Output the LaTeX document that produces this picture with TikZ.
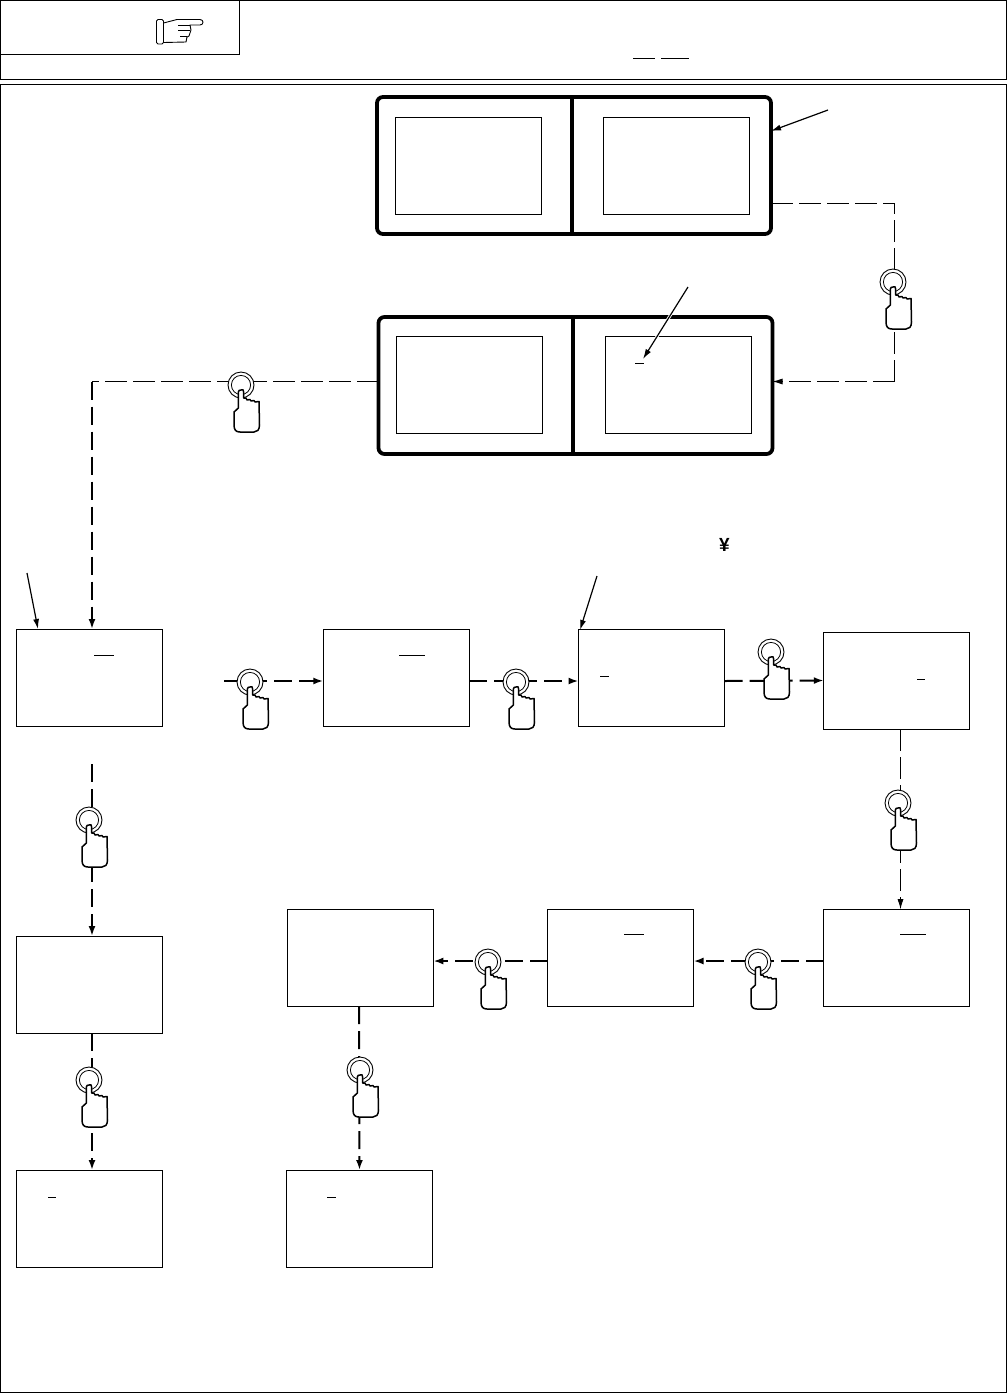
\documentclass[tikz,border=0pt]{standalone}
\usepackage{fontspec}
\setmainfont{Liberation Sans}
\usepackage{tikz}
\usetikzlibrary{positioning,calc}
\usetikzlibrary{arrows.meta}
\tikzset{
  frame/.style={draw=black,line width=1pt},
  panel/.style={draw=black,line width=3.8pt,rounded corners=6pt,inner sep=0pt,outer sep=0pt,
    minimum width=394pt,minimum height=137pt},
  screen/.style={draw=black,line width=0.95pt,inner sep=0pt,outer sep=0pt,
    minimum width=146pt,minimum height=97pt},
  overbar/.style={draw=black,line width=0.85pt},
  callout/.style={draw=black,line width=1.2pt,-{Latex[length=10pt,width=6pt]}},
  link/.style={draw=black,line width=2pt,dash pattern=on 18pt off 7pt,-{Latex[length=10pt,width=7pt]}},
  linkthin/.style={draw=black,line width=0.85pt,dash pattern=on 22pt off 6pt,-{Latex[length=10pt,width=6pt]}},
  wire/.style={draw=black,line width=0.85pt,dash pattern=on 22pt off 6pt},
  pics/press/.style={code={
    \draw[black,line width=0.9pt,fill=white] (0,0) circle (13pt);
    \draw[black,line width=0.8pt] (0,0) circle (9.6pt);
    \draw[black,line width=1.5pt,fill=white,line join=round]
      (0,5) .. controls (2,4) and (2.6,5) .. (2.6,7) -- (2.6,13)
      -- (5,13) -- (6,15) -- (9,14.5) -- (10,16) -- (13,15.5) -- (14,17) -- (18,16.5)
      -- (18.5,40) .. controls (18.5,45) and (16,47) .. (13,47)
      -- (-1,47) .. controls (-5,47) and (-7,45) .. (-7,40)
      -- (-7,27) -- (-2.6,23) -- (-2.6,7) .. controls (-2.6,5.5) and (-1.5,5) .. (0,5) -- cycle;
  }},
}
\begin{document}
\begin{tikzpicture}[x=1pt,y=-1pt]
\useasboundingbox (0,0) rectangle (1007,1393);
% header
\draw[frame] (0.6,0.6) rectangle (1006.4,79.5);
\draw[frame] (0.6,54.5) -- (239.5,54.5) -- (239.5,0.6);
\draw[frame] (0.8,84.5) rectangle (1006.4,1392.4);
\draw[overbar] (633,58.5) -- (655,58.5);
\draw[overbar] (661,58.5) -- (689,58.5);
\draw[black,line width=0.9pt,fill=white,rounded corners=1.5pt] (156.5,19.5) rectangle (163.5,44);
\draw[black,line width=0.9pt,fill=white,line join=round]
  (163.5,23) -- (177,19.5) -- (200,19.5) .. controls (204,19.5) and (204,25) .. (200,25)
  -- (190,25) -- (191,30) -- (189,36) -- (187,37) -- (186,42) -- (163.5,42.5) -- cycle;
\draw[black,line width=0.8pt] (178,25) -- (190,25) (178,30.5) -- (190,30.5) (180,36.5) -- (187,36.5);
% panels
\node[panel] (panelA) at (574,165.5) {};
\node[panel] (panelB) at (575.5,385.5) {};
\draw[draw=black,line width=3.4pt] (572,97) -- (572,234);
\draw[draw=black,line width=3.4pt] (573,317) -- (573,454);
\node[screen] (screenA1) at (468,165.5) {};
\node[screen] (screenA2) at (676,165.5) {};
\node[screen] (screenB1) at (469,385) {};
\node[screen] (screenB2) at (678,385) {};
\draw[overbar] (635,363.5) -- (644,363.5);
% screens of the sequence
\node[screen] (boxA) at (89.5,677.5) {};
\node[screen] (boxB) at (396.3,677.5) {};
\node[screen] (boxC) at (651.5,677.5) {};
\node[screen] (boxD) at (896.8,680.5) {};
\node[screen] (boxE) at (896.8,957.7) {};
\node[screen] (boxF) at (620.5,957.7) {};
\node[screen] (boxG) at (360.3,957.7) {};
\node[screen] (boxH) at (89.5,984.5) {};
\node[screen] (boxI) at (89.5,1218.5) {};
\node[screen] (boxJ) at (359.5,1218.5) {};
\draw[overbar] (94,655.5) -- (114,655.5);
\draw[overbar] (399,655.5) -- (425,655.5);
\draw[overbar] (600,676.5) -- (609,676.5);
\draw[overbar] (917,679.5) -- (925,679.5);
\draw[overbar] (900,934.5) -- (926,934.5);
\draw[overbar] (624,934.5) -- (644,934.5);
\draw[overbar] (48,1197.5) -- (56,1197.5);
\draw[overbar] (327,1197.5) -- (336,1197.5);
\node[inner sep=0pt,font=\fontsize{19pt}{19pt}\selectfont\bfseries] (yen) at (724.5,545) {¥};
% callouts
\coordinate (tipA) at (828,110);
\coordinate (tipB) at (688,287);
\coordinate (tipC) at (27,573);
\coordinate (tipD) at (597,576);
\draw[callout] (tipA) -- (771,131);
\draw[white,line width=3pt] (tipB) -- (643,359);
\draw[callout] (tipB) -- (643,359);
\draw[callout] (tipC) -- (38,629);
\draw[callout] (tipD) -- (580,630);
% connectors
\coordinate (bendA) at (894.5,203.5);
\coordinate (bendB) at (894.5,381.5);
\coordinate (bendC) at (92,381.5);
\coordinate (startB) at (224,681);
\coordinate (startH) at (92,764);
\draw[wire] ([yshift=-38pt]panelA.east) -- (bendA) -- (bendB);
\draw[linkthin] (bendB) -- ([yshift=4pt]panelB.east);
\draw[wire] ([yshift=4pt]panelB.west) -- (bendC);
\draw[link] (bendC) -- ([xshift=2.5pt]boxA.north);
\draw[link] (startB) -- ([yshift=-3.5pt]boxB.west);
\draw[link] ([yshift=-3.5pt]boxB.east) -- ([yshift=-3.5pt]boxC.west);
\draw[link] ([yshift=-3.5pt]boxC.east) -- (boxD.west);
\draw[linkthin] ([xshift=3.7pt]boxD.south) -- ([xshift=3.7pt]boxE.north);
\draw[link] ([yshift=-3.3pt]boxE.west) -- ([yshift=-3.3pt]boxF.east);
\draw[link] ([yshift=-3.3pt]boxF.west) -- ([yshift=-3.3pt]boxG.east);
\draw[link] ([xshift=-1.3pt]boxG.south) -- (boxJ.north);
\draw[link] (startH) -- ([xshift=2.5pt]boxH.north);
\draw[link] ([xshift=2.5pt]boxH.south) -- ([xshift=2.5pt]boxI.north);
% hands
\pic at (893,282) {press};
\pic at (241,385) {press};
\pic at (250,682) {press};
\pic at (516,682) {press};
\pic at (771,652) {press};
\pic at (898,803) {press};
\pic at (758,962) {press};
\pic at (488,962) {press};
\pic at (360,1070) {press};
\pic at (89,820) {press};
\pic at (89,1080) {press};
\end{tikzpicture}
\end{document}
